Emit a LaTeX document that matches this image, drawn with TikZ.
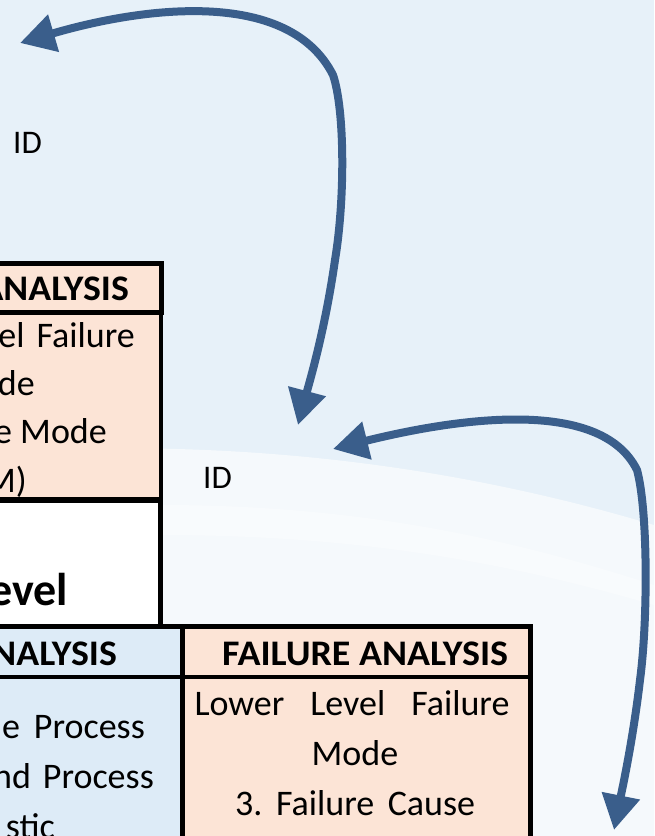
\documentclass[tikz,border=0pt]{standalone}
\usepackage{fontspec}
\usepackage{graphicx}
\setmainfont{Carlito}
\usetikzlibrary{arrows.meta}
\definecolor{bgblue}{RGB}{231,241,249}
\definecolor{bglow}{RGB}{245,249,252}
\definecolor{pinkc}{RGB}{252,228,214}
\definecolor{bluec}{RGB}{221,235,247}
\definecolor{arrowc}{RGB}{58,94,139}
\tikzset{
  txt/.style={inner sep=0pt, font=\fontsize{36}{36}\selectfont},
  idl/.style={inner sep=0pt, font=\fontsize{33}{33}\selectfont},
  hdr/.style={inner sep=0pt, font=\bfseries\fontsize{36}{36}\selectfont},
  big/.style={inner sep=0pt, font=\bfseries\fontsize{46}{46}\selectfont},
  thickb/.style={draw=black, line width=5pt},
  thinb/.style={draw=black, line width=3.5pt},
  conn/.style={draw=arrowc, line width=8pt,
    {Triangle[length=35pt,width=37pt]}-{Triangle[length=35pt,width=37pt]}}
}
\begin{document}
\begin{tikzpicture}[x=1pt,y=-1pt]
\useasboundingbox (0,0) rectangle (654,836);
\clip (0,0) rectangle (654,836);
% background
\fill[bgblue] (0,0) rectangle (654,836);
\fill[bglow] (0,452) .. controls (200,440) and (420,455) .. (654,525) -- (654,836) -- (0,836) -- cycle;
\fill[white,opacity=0.35] (160,505) .. controls (350,505) and (500,535) .. (654,585) -- (654,605) .. controls (500,560) and (350,535) .. (160,535) -- cycle;

% upper table
\filldraw[fill=pinkc, thinb] (-20,312) rectangle (161,499);
\filldraw[fill=pinkc, thickb] (-20,263) rectangle (161,312);
\filldraw[fill=white, thickb] (-20,500) rectangle (160,626);

% lower table
\fill[bluec] (-20,626) rectangle (182,860);
\fill[pinkc] (182,626) rectangle (530,860);
\draw[thinb] (-20,677) -- (530,677);
\draw[thickb] (182,626) -- (182,860);
\draw[thickb] (-20,626) -- (530,626) -- (530,860);

% texts upper
\node[hdr, anchor=base east] (uh) at (129,300) {\scalebox{1.05}[1]{ANALYSIS}};
\node[txt, anchor=base east] (u1) at (135,347) {el\hspace{12pt}Failure};
\node[txt, anchor=base east] (u2) at (35,395) {de};
\node[txt, anchor=base east] (u3) at (107,443) {e Mode};
\node[txt, anchor=base east] (u4) at (27,492) {M)};
\node[big, anchor=base east] (lv) at (68,605) {evel};

% texts lower
\node[hdr, anchor=base east] (bh) at (117,665) {\scalebox{1.05}[1]{ANALYSIS}};
\node[hdr, anchor=base west] (ph) at (222,665) {\scalebox{1.055}[1]{FAILURE ANALYSIS}};
\node[txt, anchor=base east] (b1) at (145,738) {e\hspace{14pt}Process};
\node[txt, anchor=base east] (b2) at (154,788) {nd\hspace{12pt}Process};
\node[txt, anchor=base east] (b3) at (55,838) {stic};
\node[txt, anchor=base] (p1) at (352,715) {\hbox to 315pt{Lower\hfill Level\hfill Failure}};
\node[txt, anchor=base] (p2) at (355,765) {Mode};
\node[txt, anchor=base west] (p3) at (235,815) {\hbox to 240pt{3.\hfill Failure\hfill Cause}};

% ID labels
\node[idl, anchor=base west] (id1) at (13,153) {ID};
\node[idl, anchor=base west] (id2) at (203,488) {ID};

% arrows
\coordinate (a1s) at (20,43);
\coordinate (a1e) at (298,425);
\coordinate (a2s) at (333,449);
\coordinate (a2e) at (614,830);
\draw[conn] (a1s) .. controls (150,5) and (290,-10) .. (333,75)
  .. controls (345,110) and (345,200) .. (335,260)
  .. controls (325,330) and (310,380) .. (a1e);
\draw[conn] (a2s) .. controls (450,420) and (600,395) .. (637,470)
  .. controls (648,510) and (648,620) .. (640,680)
  .. controls (633,740) and (622,790) .. (a2e);
\end{tikzpicture}
\end{document}
